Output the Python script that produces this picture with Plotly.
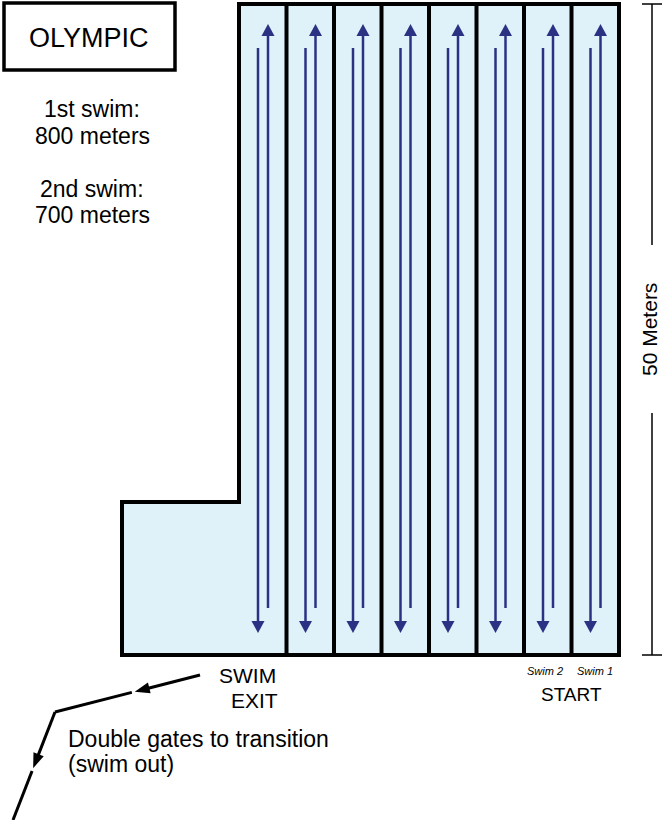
import math
import plotly.graph_objects as go

# ---- canvas / geometry (diagram units = pixels of the original drawing) ----
W, H = 663, 820
n_lanes = 8
lane_left = 239
lane_width = 47.5
pool_top = 4
pool_bottom = 655
shallow_left = 122
shallow_top = 502

# lane arrows (offsets from each lane's left edge)
up_offset = 29
down_offset = 19
up_tip = 24
up_tail = 608
down_start = 48
down_tip = 633
head_len = 12
head_half = 6.5

# scale bar
scale_x = 652
scale_gap = [245, 413]
scale_label = "50 Meters"

# title box
title_text = "OLYMPIC"
title_box = [4, 3, 175, 70]

info_lines = ["1st swim:", "800 meters", "2nd swim:", "700 meters"]
info_y = [109, 136, 189, 215]
info_x = 92

# bottom labels
exit_lines = ["SWIM", "EXIT"]
exit_x = [247, 254]
exit_y = [675, 700]
swim_labels = ["Swim 2", "Swim 1"]
swim_label_x = [545, 595]
swim_label_y = 671
start_text = "START"
start_xy = [571, 694]
gate_lines = ["Double gates to transition", "(swim out)"]
gate_text_x = 67
gate_text_y = [739, 764]

# gate path and arrow positions (fraction along each segment)
gate_path = [(200, 675), (55, 712), (13, 820)]
gate_arrow_frac = [0.45, 0.52]

pool_fill = "#dff1f9"
arrow_color = "#2b3183"
font_family = "Liberation Sans, Arial, Helvetica, sans-serif"

shapes = []
right = lane_left + n_lanes * lane_width

# pool outline (L shape)
shapes.append(dict(
    type="path", xref="x", yref="y",
    path=(f"M {lane_left},{pool_top} L {right},{pool_top} L {right},{pool_bottom} "
          f"L {shallow_left},{pool_bottom} L {shallow_left},{shallow_top} L {lane_left},{shallow_top} Z"),
    fillcolor=pool_fill, line=dict(color="black", width=4)))

# lane dividers
for i in range(1, n_lanes):
    x = lane_left + i * lane_width
    shapes.append(dict(type="line", xref="x", yref="y", x0=x, x1=x, y0=pool_top, y1=pool_bottom,
                       line=dict(color="black", width=4)))


def tri(tip_x, tip_y, ux, uy, length, half):
    # ux, uy: unit direction of arrow (towards tip)
    bx, by = tip_x - ux * length, tip_y - uy * length
    px, py = -uy, ux
    return (f"M {tip_x},{tip_y} L {bx + px * half},{by + py * half} "
            f"L {bx - px * half},{by - py * half} Z")


# lane arrows
for i in range(n_lanes):
    xl = lane_left + i * lane_width
    ux = xl + up_offset
    dx = xl + down_offset
    shapes.append(dict(type="line", xref="x", yref="y", x0=ux, x1=ux, y0=up_tail, y1=up_tip + head_len - 1,
                       line=dict(color=arrow_color, width=2.5)))
    shapes.append(dict(type="path", xref="x", yref="y", path=tri(ux, up_tip, 0, -1, head_len, head_half),
                       fillcolor=arrow_color, line=dict(width=0)))
    shapes.append(dict(type="line", xref="x", yref="y", x0=dx, x1=dx, y0=down_start, y1=down_tip - head_len + 1,
                       line=dict(color=arrow_color, width=2.5)))
    shapes.append(dict(type="path", xref="x", yref="y", path=tri(dx, down_tip, 0, 1, head_len, head_half),
                       fillcolor=arrow_color, line=dict(width=0)))

# scale bar
for (y0, y1) in [(pool_top, scale_gap[0]), (scale_gap[1], pool_bottom)]:
    shapes.append(dict(type="line", xref="x", yref="y", x0=scale_x, x1=scale_x, y0=y0, y1=y1,
                       line=dict(color="black", width=1.5)))
for y in [pool_top, pool_bottom]:
    shapes.append(dict(type="line", xref="x", yref="y", x0=scale_x - 10, x1=scale_x + 10, y0=y, y1=y,
                       line=dict(color="black", width=1.5)))

# title box
shapes.append(dict(type="rect", xref="x", yref="y", x0=title_box[0], y0=title_box[1],
                   x1=title_box[2], y1=title_box[3], line=dict(color="black", width=3.5)))

# gate path with arrowheads breaking the line
gate_len, gate_half, gap = 15, 5.5, 3
segs = []
cur = gate_path[0]
for k in range(len(gate_path) - 1):
    (x0, y0), (x1, y1) = gate_path[k], gate_path[k + 1]
    L = math.hypot(x1 - x0, y1 - y0)
    ux, uy = (x1 - x0) / L, (y1 - y0) / L
    f = gate_arrow_frac[k]
    tx, ty = x0 + (x1 - x0) * f, y0 + (y1 - y0) * f
    segs.append([cur, (tx - ux * (gate_len - 1), ty - uy * (gate_len - 1))])
    shapes.append(dict(type="path", xref="x", yref="y", path=tri(tx, ty, ux, uy, gate_len, gate_half),
                       fillcolor="black", line=dict(width=0)))
    cur = (tx + ux * gap, ty + uy * gap)
    segs.append([cur, (x1, y1)])
    cur = (x1, y1)
for a, b in segs:
    if a == b:
        continue
    shapes.append(dict(type="line", xref="x", yref="y", x0=a[0], y0=a[1], x1=b[0], y1=b[1],
                       line=dict(color="black", width=3)))

annotations = []


def txt(t, x, y, size, xanchor="center", italic=False, angle=0):
    s = f"<i>{t}</i>" if italic else t
    annotations.append(dict(text=s, x=x, y=y, xref="x", yref="y", showarrow=False,
                            xanchor=xanchor, yanchor="middle", textangle=angle, borderpad=0,
                            font=dict(family=font_family, size=size, color="black")))


txt(title_text, (title_box[0] + title_box[2]) / 2 - 1, (title_box[1] + title_box[3]) / 2 + 1, 27)
for t, y in zip(info_lines, info_y):
    txt(t, info_x, y, 23)
for t, x, y in zip(exit_lines, exit_x, exit_y):
    txt(t, x, y, 21)
for t, x in zip(swim_labels, swim_label_x):
    txt(t, x, swim_label_y, 11, italic=True)
txt(start_text, start_xy[0], start_xy[1], 19)
for t, y in zip(gate_lines, gate_text_y):
    txt(t, gate_text_x, y, 23, xanchor="left")
txt(scale_label, scale_x - 3, 330, 21, angle=-90)

fig = go.Figure()
fig.update_layout(
    width=W, height=H, margin=dict(l=0, r=0, t=0, b=0),
    paper_bgcolor="white", plot_bgcolor="white",
    xaxis=dict(range=[0, W], visible=False, fixedrange=True),
    yaxis=dict(range=[H, 0], visible=False, fixedrange=True),
    shapes=shapes, annotations=annotations, showlegend=False,
)
fig.write_html(
    "out.html",
    config={"displayModeBar": False},
    post_script="document.body.style.margin='0px';document.body.style.overflow='hidden';",
)
